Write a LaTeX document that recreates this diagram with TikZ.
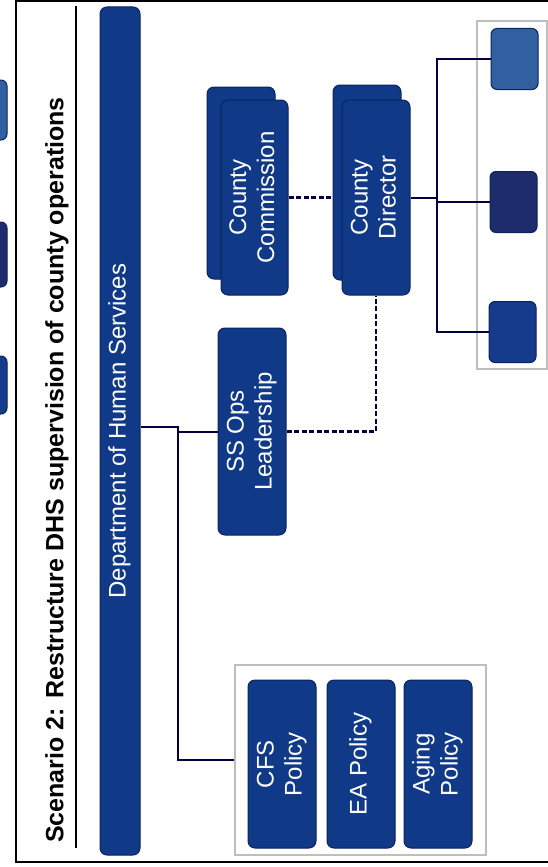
\documentclass[tikz,border=0pt]{standalone}
\usepackage{fontspec}
\setmainfont{Liberation Sans}
\usepackage{graphicx}
\usetikzlibrary{positioning}
\definecolor{dhsblue}{RGB}{16,58,136}
\definecolor{dhsedge}{RGB}{10,35,90}
\definecolor{unitlight}{RGB}{48,96,160}
\definecolor{unitnavy}{RGB}{30,44,108}
\definecolor{unitmid}{RGB}{22,58,140}
\definecolor{framegray}{RGB}{190,190,190}
\newcommand{\boxtext}[1]{\rotatebox{90}{\begin{tabular}{@{}c@{}}#1\end{tabular}}}

\begin{document}
\begin{tikzpicture}[x=1pt, y=-1pt,
    orgbox/.style={rectangle, draw=dhsedge, line width=1pt, fill=dhsblue, rounded corners=7pt, text=white, font=\fontsize{24}{28}\selectfont, inner sep=0pt},
    unitbox/.style={rectangle, draw=dhsedge, line width=1pt, rounded corners=6pt, minimum width=47pt, minimum height=61pt},
    groupframe/.style={draw=framegray, line width=1.2pt, inner sep=0pt},
    link/.style={draw=black!75!blue, line width=2pt},
    dashlink/.style={link, line width=2.2pt, dash pattern=on 5pt off 2.5pt}
]
\clip (0,0) rectangle (548,867);
% page frame and title
\draw[line width=2pt] (16,-2) -- (16,862) -- (552,862);
\draw[line width=2pt] (16,1) -- (552,1);
\draw[line width=1.8pt] (76,6) -- (76,848);
\node[rotate=90, font=\bfseries\fontsize{25}{30}\selectfont] (title) at (57,470) {Scenario 2: Restructure DHS supervision of county operations};

% cut-off boxes at the left edge
\draw[dhsedge, line width=1pt, fill=unitlight, rounded corners=6pt] (-30,80) rectangle (7,140);
\draw[dhsedge, line width=1pt, fill=unitnavy, rounded corners=6pt] (-30,222) rectangle (7,287);
\draw[dhsedge, line width=1pt, fill=unitmid, rounded corners=6pt] (-30,356) rectangle (7,414);

% department
\node[orgbox, minimum width=40pt, minimum height=848pt] (dhs) at (120,431) {\boxtext{Department of Human Services}};
\node[orgbox, minimum width=68pt, minimum height=207pt] (ssops) at (252,431.5) {\boxtext{SS Ops\\Leadership}};

% policy group
\node[groupframe, minimum width=251pt, minimum height=190pt] (policy) at (360.5,760) {};
\node[orgbox, minimum width=68pt, minimum height=168pt] (cfs) at (282,764) {\boxtext{CFS\\Policy}};
\node[orgbox, minimum width=68pt, minimum height=168pt, right=10pt of cfs] (ea) {\boxtext{EA Policy}};
\node[orgbox, minimum width=68pt, minimum height=168pt, right=8pt of ea] (aging) {\boxtext{Aging\\Policy}};

% county level
\node[orgbox, minimum width=68pt, minimum height=192pt] (commback) at (241,183) {};
\node[orgbox, minimum width=67pt, minimum height=195pt] (commfront) at (254.5,197.5) {\boxtext{County\\Commission}};
\node[orgbox, minimum width=68pt, minimum height=195pt] (dirback) at (367,182.5) {};
\node[orgbox, minimum width=68pt, minimum height=195pt] (dirfront) at (376,197.5) {\boxtext{County\\Director}};

% county units
\node[groupframe, minimum width=70pt, minimum height=348pt] (units) at (512,195) {};
\node[unitbox, fill=unitlight] (unitA) at (514.5,59) {};
\node[unitbox, fill=unitnavy] (unitB) at (513.5,202) {};
\node[unitbox, fill=unitmid] (unitC) at (512.5,332) {};

% connectors
\coordinate (split) at (178,427);
\coordinate (trunk) at (437,197.5);
\draw[link] (split -| dhs.east) -- (split) |- (policy.west);
\draw[link] (split |- ssops.west) -- (ssops.west);
\draw[dashlink] (ssops.east) -| (dirfront.south);
\draw[dashlink] (commfront.east) -- (commfront.east -| dirback.west);
\draw[link] (dirfront.east) -- (trunk);
\draw[link] (unitA.west) -| (trunk) |- (unitC.west);
\draw[link] (trunk |- unitB.west) -- (unitB.west);
\end{tikzpicture}
\end{document}
